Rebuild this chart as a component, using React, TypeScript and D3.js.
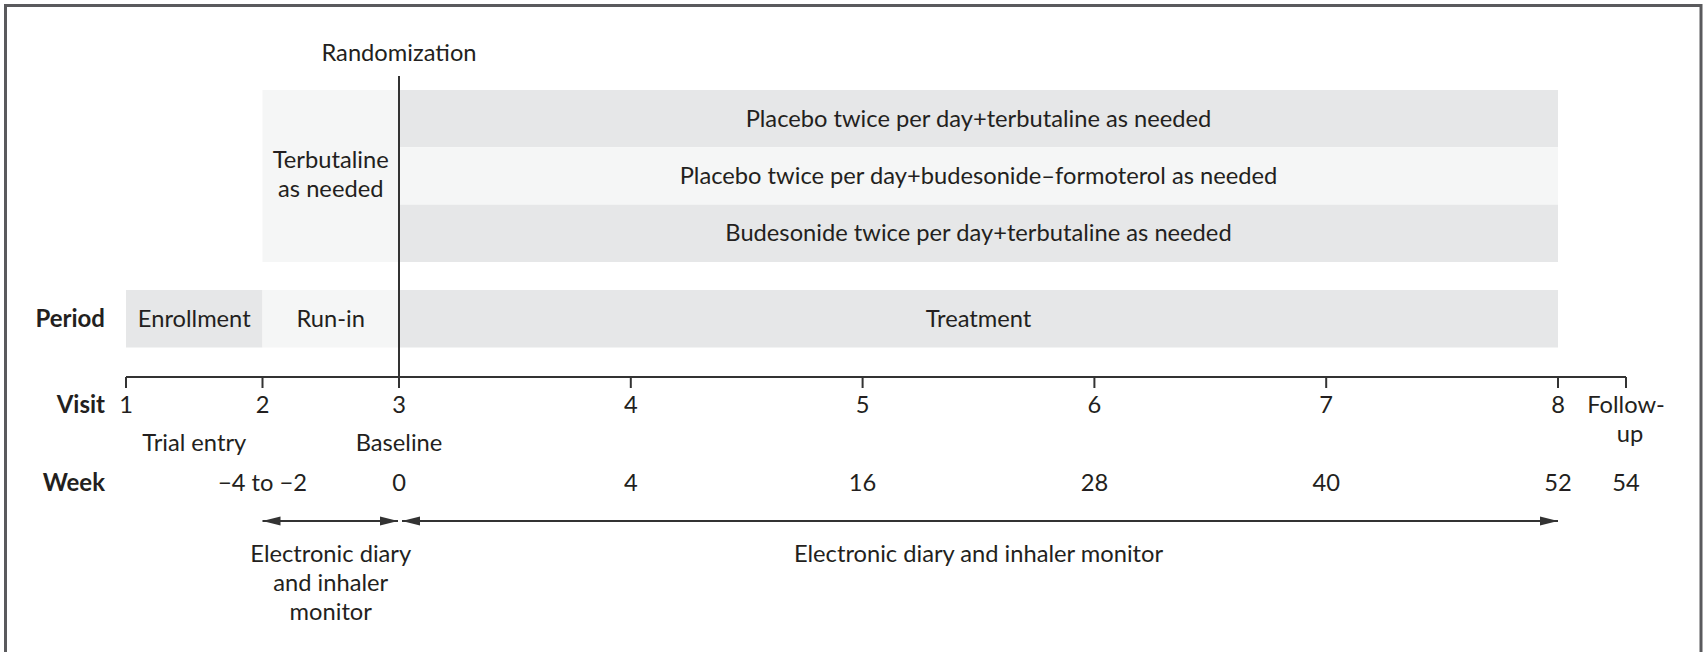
import React, { useEffect } from "react";
import * as d3 from "d3";

const visits = ["1", "2", "3", "4", "5", "6", "7", "8", "Follow-up"];
const visitNumbers = [1, 2, 3, 4, 5, 6, 7, 8, 9];
const weeks = ["", "\u22124 to \u22122", "0", "4", "16", "28", "40", "52", "54"];
const visitNotes = [
  { label: "Trial entry", from: 1, to: 2 },
  { label: "Baseline", from: 3, to: 3 },
];
const arms = [
  "Placebo twice per day+terbutaline as needed",
  "Placebo twice per day+budesonide\u2013formoterol as needed",
  "Budesonide twice per day+terbutaline as needed",
];
const periods = [
  { label: "Enrollment", from: 1, to: 2 },
  { label: "Run-in", from: 2, to: 3 },
  { label: "Treatment", from: 3, to: 8 },
];
const diaryRanges = [
  { label: ["Electronic diary", "and inhaler", "monitor"], from: 2, to: 3 },
  { label: ["Electronic diary and inhaler monitor"], from: 3, to: 8 },
];

const W = 1705;
const H = 652;
const DARK = "#e6e7e8";
const LIGHT = "#f5f6f6";
const INK = "#231f20";
const FONT = "Lato, 'Open Sans', sans-serif";
const FS = 23.7;

export default function App() {
  const svgRef = React.useRef(null);

  useEffect(() => {
    d3.select("body").style("margin", 0);
    const svg = d3.select(svgRef.current).attr("width", W).attr("height", H);
    svg.selectAll("*").remove();

    // visit timeline is not evenly spaced: run-in visits closer together
    const x = d3.scaleLinear().domain([1, 3, 8, 9]).range([126, 399, 1558, 1626]);
    const armY = d3.scaleBand().domain(arms).range([90, 262]);
    const periodTop = 290;
    const periodH = 57.5;
    const axisY = 377;

    // frame
    svg
      .append("path")
      .attr("d", `M5.5,${H} V5.5 H${W - 4} V${H}`)
      .attr("fill", "none")
      .attr("stroke", "#5a5a5d")
      .attr("stroke-width", 3);

    const txt = (sel: any) =>
      sel
        .attr("font-family", FONT)
        .attr("fill", INK)
        .attr("text-anchor", "middle")
        .attr("font-size", FS);

    // run-in box behind arms
    svg
      .append("rect")
      .attr("x", x(2))
      .attr("y", armY.range()[0])
      .attr("width", x(3) - x(2))
      .attr("height", armY.range()[1] - armY.range()[0])
      .attr("fill", LIGHT);
    svg
      .append("text")
      .call(txt)
      .attr("x", (x(2) + x(3)) / 2)
      .attr("y", 168)
      .selectAll("tspan")
      .data(["Terbutaline", "as needed"])
      .join("tspan")
      .attr("x", (x(2) + x(3)) / 2)
      .attr("dy", (d, i) => (i === 0 ? 0 : 29))
      .text((d) => d);

    // arms
    const armG = svg.append("g");
    armG
      .selectAll("rect")
      .data(arms)
      .join("rect")
      .attr("x", x(3))
      .attr("y", (d) => armY(d)!)
      .attr("width", x(8) - x(3))
      .attr("height", armY.bandwidth())
      .attr("fill", (d, i) => (i === 1 ? LIGHT : DARK));
    armG
      .selectAll("text")
      .data(arms)
      .join("text")
      .call(txt)
      .attr("x", (x(3) + x(8)) / 2)
      .attr("y", (d) => armY(d)! + armY.bandwidth() / 2 + 8)
      .text((d) => d);

    // period row
    const perG = svg.append("g");
    perG
      .selectAll("rect")
      .data(periods)
      .join("rect")
      .attr("x", (d) => x(d.from))
      .attr("y", periodTop)
      .attr("width", (d) => x(d.to) - x(d.from))
      .attr("height", periodH)
      .attr("fill", (d, i) => (i === 1 ? LIGHT : DARK));
    perG
      .selectAll("text")
      .data(periods)
      .join("text")
      .call(txt)
      .attr("x", (d) => (x(d.from) + x(d.to)) / 2)
      .attr("y", periodTop + periodH / 2 + 8)
      .text((d) => d.label);

    // randomization line
    svg
      .append("line")
      .attr("x1", x(3))
      .attr("x2", x(3))
      .attr("y1", 76)
      .attr("y2", axisY)
      .attr("stroke", "#333")
      .attr("stroke-width", 2);
    svg
      .append("text")
      .call(txt)
      .attr("x", x(3))
      .attr("y", 61)
      .text("Randomization");

    // visit axis
    svg
      .append("path")
      .attr("d", `M${x(1)},${axisY} H${x(9)}`)
      .attr("stroke", "#333")
      .attr("stroke-width", 2)
      .attr("fill", "none");
    svg
      .append("g")
      .selectAll("line")
      .data(visitNumbers)
      .join("line")
      .attr("x1", (d) => x(d))
      .attr("x2", (d) => x(d))
      .attr("y1", axisY)
      .attr("y2", axisY + 11)
      .attr("stroke", "#333")
      .attr("stroke-width", 2);

    svg
      .append("g")
      .selectAll("text")
      .data(visits)
      .join("text")
      .call(txt)
      .attr("x", (d, i) => x(visitNumbers[i]))
      .attr("y", 413)
      .each(function (d) {
        const t = d3.select(this);
        if (d === "Follow-up") {
          t.append("tspan").attr("x", x(9)).text("Follow-");
          t.append("tspan").attr("x", x(9) + 4).attr("dy", 29).text("up");
        } else t.text(d);
      });

    svg
      .append("g")
      .selectAll("text")
      .data(visitNotes)
      .join("text")
      .call(txt)
      .attr("x", (d) => (x(d.from) + x(d.to)) / 2)
      .attr("y", 451)
      .text((d) => d.label);

    svg
      .append("g")
      .selectAll("text")
      .data(weeks)
      .join("text")
      .call(txt)
      .attr("x", (d, i) => x(visitNumbers[i]))
      .attr("y", 491)
      .text((d) => d);

    // row labels
    svg
      .append("g")
      .selectAll("text")
      .data([
        { t: "Period", y: periodTop + periodH / 2 + 8 },
        { t: "Visit", y: 413 },
        { t: "Week", y: 491 },
      ])
      .join("text")
      .call(txt)
      .attr("text-anchor", "end")
      .attr("x", 105)
      .attr("y", (d) => d.y)
      .attr("font-size", 24)
      .attr("font-weight", 700)
      .text((d) => d.t);

    // diary arrows
    const arrowY = 521;
    const head = (tip: number, dir: number) =>
      `M${tip},${arrowY} L${tip - dir * 18},${arrowY - 4.5} L${tip - dir * 18},${arrowY + 4.5} Z`;
    const arrG = svg.append("g");
    diaryRanges.forEach((r, i) => {
      const x0 = x(r.from) + (i === 1 ? 3 : 0);
      const x1 = x(r.to) - (i === 0 ? 1 : 0);
      arrG
        .append("line")
        .attr("x1", x0)
        .attr("x2", x1)
        .attr("y1", arrowY)
        .attr("y2", arrowY)
        .attr("stroke", "#333")
        .attr("stroke-width", 2);
      arrG.append("path").attr("d", head(x0, -1)).attr("fill", "#333");
      arrG.append("path").attr("d", head(x1, 1)).attr("fill", "#333");
      arrG
        .append("text")
        .call(txt)
        .attr("y", 562)
        .selectAll("tspan")
        .data(r.label)
        .join("tspan")
        .attr("x", (x(r.from) + x(r.to)) / 2)
        .attr("dy", (d, j) => (j === 0 ? 0 : 29))
        .text((d) => d);
    });
  }, []);

  return (
    <div className="chart-container">
      <svg ref={svgRef} style={{ display: "block" }} />
    </div>
  );
}
